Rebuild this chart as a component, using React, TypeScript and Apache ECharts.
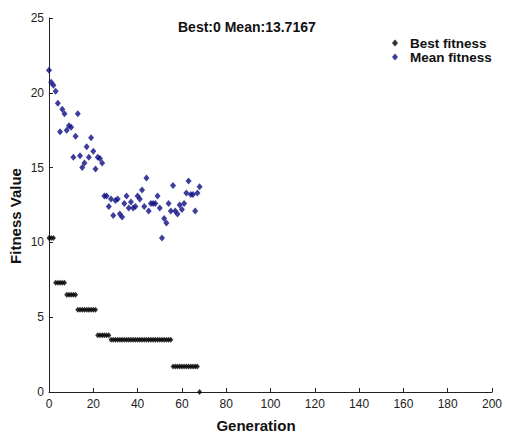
import React, { useEffect, useRef } from "react";
import * as echarts from "echarts";

const titleText = "Best:0 Mean:13.7167";
const xTicks = [0, 20, 40, 60, 80, 100, 120, 140, 160, 180, 200];
const yTicks = [0, 5, 10, 15, 20, 25];

const bestFitness = [
  10.3, 10.3, 10.3,
  7.3, 7.3, 7.3, 7.3, 7.3,
  6.5, 6.5, 6.5, 6.5, 6.5,
  5.5, 5.5, 5.5, 5.5, 5.5, 5.5, 5.5, 5.5, 5.5,
  3.8, 3.8, 3.8, 3.8, 3.8, 3.8,
  3.5, 3.5, 3.5, 3.5, 3.5, 3.5, 3.5, 3.5, 3.5, 3.5, 3.5, 3.5, 3.5, 3.5,
  3.5, 3.5, 3.5, 3.5, 3.5, 3.5, 3.5, 3.5, 3.5, 3.5, 3.5, 3.5, 3.5, 3.5,
  1.7, 1.7, 1.7, 1.7, 1.7, 1.7, 1.7, 1.7, 1.7, 1.7, 1.7, 1.7,
  0,
];

const meanFitness = [
  21.5, 20.7, 20.5, 20.1, 19.3, 17.4, 18.9, 18.6, 17.5, 17.8,
  17.7, 15.7, 17.1, 18.6, 15.8, 15.0, 15.3, 16.4, 15.7, 17.0,
  16.1, 14.9, 15.7, 15.6, 15.3, 13.1, 13.1, 12.4, 12.9, 11.8,
  12.8, 12.9, 11.9, 11.7, 12.6, 13.1, 12.3, 12.7, 12.3, 12.4,
  13.1, 12.9, 13.5, 12.4, 14.3, 12.1, 12.6, 12.6, 12.6, 13.1,
  12.3, 10.3, 11.6, 11.3, 12.6, 12.1, 13.8, 12.1, 11.9, 12.5,
  12.2, 12.6, 13.3, 14.1, 13.2, 13.2, 12.1, 13.3, 13.7167,
];

const axisColor = "#222";
const font = "'Liberation Sans', Arial, sans-serif";

export default function App() {
  const ref = useRef<HTMLDivElement>(null);
  useEffect(() => {
    if (!ref.current) return;
    const chart = echarts.init(ref.current, null, { renderer: "svg" });
    chart.setOption({
      animation: false,
      backgroundColor: "#fff",
      title: {
        text: titleText,
        left: 178,
        top: 20,
        padding: 0,
        textStyle: { fontFamily: font, fontSize: 14, fontWeight: "bold", color: "#111" },
      },
      legend: {
        orient: "vertical",
        left: 392,
        top: 36,
        padding: 0,
        itemGap: 0,
        itemWidth: 6,
        itemHeight: 7,
        icon: "diamond",
        textStyle: {
          fontFamily: font,
          fontSize: 13.5,
          fontWeight: "bold",
          color: "#111",
          lineHeight: 13,
          padding: [0, 0, 0, 7],
        },
        data: ["Best fitness", "Mean fitness"],
      },
      grid: { left: 49, top: 18, width: 447, height: 374, containLabel: false },
      xAxis: {
        type: "value",
        min: xTicks[0],
        max: xTicks[xTicks.length - 1],
        interval: 20,
        axisLine: { show: true, onZero: false, lineStyle: { color: axisColor, width: 1 } },
        axisTick: { show: true, inside: true, length: 4, lineStyle: { color: axisColor } },
        axisLabel: { fontFamily: font, fontSize: 12, color: "#222", margin: 6 },
        splitLine: { show: false },
      },
      yAxis: {
        type: "value",
        min: yTicks[0],
        max: yTicks[yTicks.length - 1],
        interval: 5,
        axisLine: { show: true, onZero: false, lineStyle: { color: axisColor, width: 1 } },
        axisTick: { show: true, inside: true, length: 4, lineStyle: { color: axisColor } },
        axisLabel: { fontFamily: font, fontSize: 12, color: "#222", margin: 5 },
        splitLine: { show: false },
      },
      graphic: [
        {
          type: "text",
          x: 256,
          y: 425,
          style: {
            text: "Generation",
            fontFamily: font,
            fontSize: 15,
            fontWeight: "bold",
            fill: "#111",
            textAlign: "center",
            textVerticalAlign: "middle",
          },
        },
        {
          type: "text",
          x: 15,
          y: 216,
          rotation: Math.PI / 2,
          style: {
            text: "Fitness Value",
            fontFamily: font,
            fontSize: 15,
            fontWeight: "bold",
            fill: "#111",
            textAlign: "center",
            textVerticalAlign: "middle",
          },
        },
      ],
      series: [
        {
          name: "Best fitness",
          type: "scatter",
          symbol: "diamond",
          symbolSize: [5, 6],
          itemStyle: { color: "#000" },
          data: bestFitness.map((v, i) => [i, v]),
        },
        {
          name: "Mean fitness",
          type: "scatter",
          symbol: "diamond",
          symbolSize: [6, 7],
          itemStyle: { color: "#0c0c82" },
          data: meanFitness.map((v, i) => [i, v]),
        },
      ],
    });
    return () => chart.dispose();
  }, []);
  return (
    <div
      ref={ref}
      style={{ position: "fixed", left: 0, top: 0, width: 505, height: 432 }}
    />
  );
}
